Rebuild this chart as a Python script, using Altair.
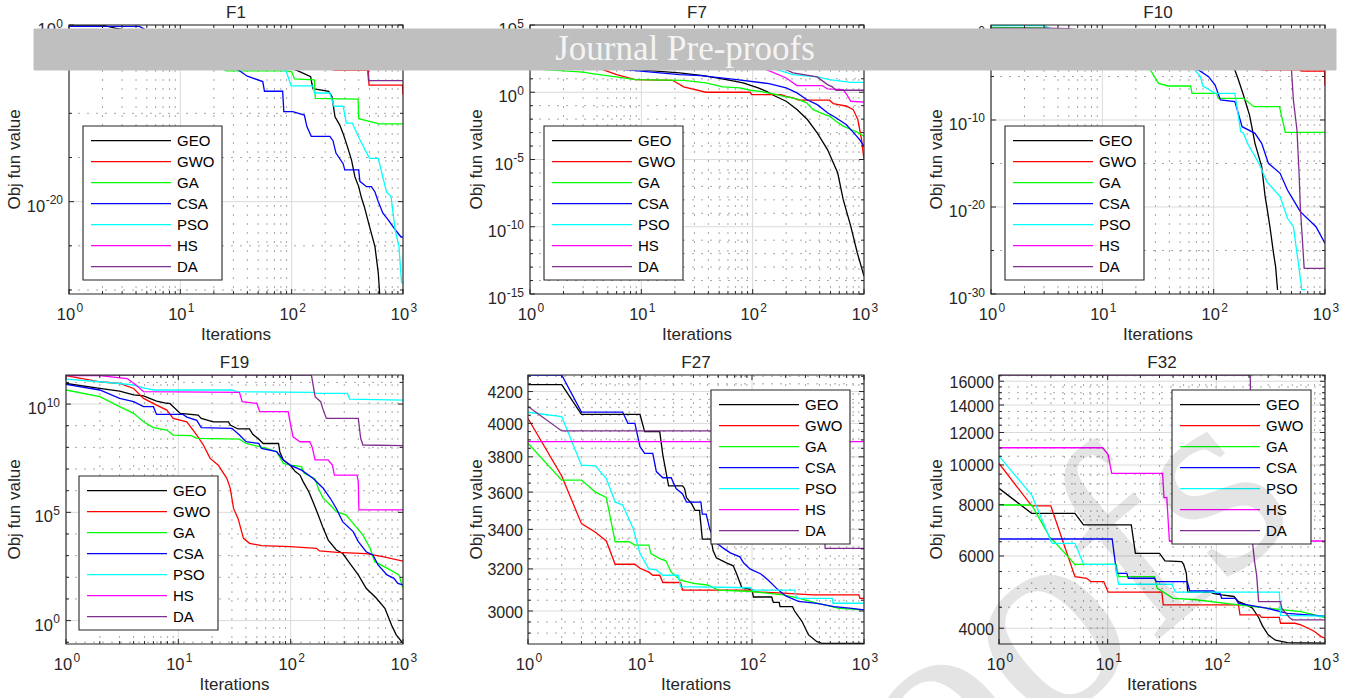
import altair as alt
import pandas as pd

FONT = "Liberation Sans"
SERIF = "Liberation Serif"
INK = "#262626"
GRID = "#dadada"
MINOR = "#a8a8a8"

NAMES = ["GEO", "GWO", "GA", "CSA", "PSO", "HS", "DA"]
COLORS = ["#000000", "#ff0000", "#00ff00", "#0000ff", "#00ffff", "#ff00ff", "#7e2f8e"]

X_MAJOR = [1, 10, 100, 1000]
X_EXP = ["0", "1", "2", "3"]
X_MINOR = [2, 3, 4, 5, 6, 7, 8, 9, 20, 30, 40, 50, 60, 70, 80, 90,
           200, 300, 400, 500, 600, 700, 800, 900]

# ---------------- F1 (values are log10 of objective) ----------------
F1_GEO = [(1, -0.02), (2, -0.02), (2.6, -0.35), (5, -1.0), (10, -1.8), (20, -2.7), (40, -3.6), (80, -4.5),
          (114, -5.2), (148, -5.85), (155, -7.2), (215, -7.5), (230, -8.1), (245, -10.4), (270, -11.3),
          (290, -12.3), (310, -13.4), (345, -15.3), (370, -17.2), (400, -18.3), (420, -19.4), (450, -20.6),
          (500, -22.8), (560, -25.1), (600, -28.1), (625, -31.5)]
F1_GWO = [(1, -0.7), (10, -2.0), (50, -3.5), (150, -4.5), (245, -5.1), (488, -5.1), (495, -6.8), (990, -6.8),
          (1000, -7.9)]
F1_GA = [(1, -0.7), (3, -1.2), (8, -2.8), (18, -4.3), (26, -5.2), (89, -5.2), (100, -5.3), (106, -6.1),
         (160, -6.2), (163, -8.3), (395, -8.4), (400, -10.6), (500, -10.9), (610, -11.2), (1000, -11.2)]
F1_CSA = [(1, -0.15), (4.3, -0.15), (6, -1.2), (12, -2.6), (25, -4.2), (35, -5.3), (40, -5.8), (55, -6.4),
          (57, -7.5), (83, -7.5), (85, -9.8), (102, -9.8), (130, -10.2), (137, -11.5), (150, -12.6),
          (220, -12.6), (235, -13.1), (250, -14.5), (290, -15.7), (300, -16.4), (400, -16.4), (410, -17.7),
          (470, -18.3), (520, -18.3), (560, -18.9), (600, -20.0), (660, -21.3), (740, -22.1), (830, -23.0),
          (960, -24.0), (1000, -24.0)]
F1_PSO = [(1, -0.7), (5, -1.6), (15, -3.0), (40, -4.3), (89, -5.2), (99, -6.9), (155, -6.9), (160, -7.7),
          (220, -7.7), (240, -9.2), (290, -9.2), (310, -11.1), (350, -11.1), (410, -13.0), (500, -15.1),
          (600, -15.1), (710, -18.9), (780, -19.4), (850, -23.2), (920, -25.1), (970, -29.1), (1000, -29.3)]
F1_HS = [(1, -0.7), (10, -1.2), (100, -2.5), (400, -3.5), (1000, -3.8)]
F1_DA = [(1, -0.7), (30, -1.5), (200, -3.0), (480, -4.9), (490, -6.3), (1000, -6.3)]

# ---------------- F7 (log10) ----------------
F7_GEO = [(1, 4.0), (2, 3.2), (4, 2.5), (9, 1.68), (22, 1.44), (36, 1.24), (58, 0.94), (82, 0.69), (112, 0.32),
          (133, 0.07), (160, -0.3), (200, -0.67), (250, -1.29), (310, -2.03), (380, -3.02), (470, -4.26),
          (580, -5.99), (650, -7.97), (760, -9.95), (870, -11.93), (1000, -13.66)]
F7_GWO = [(1, 4.2), (2, 3.0), (4.5, 1.68), (6, 1.31), (8.8, 0.94), (19, 0.89), (21, 0.69), (24, 0.40), (38, 0.0),
          (95, 0.0), (98, -0.17), (180, -0.17), (200, -0.3), (230, -0.42), (260, -0.59), (490, -0.59),
          (530, -0.84), (700, -1.04), (800, -1.29), (880, -2.03), (950, -3.5), (1000, -5.0)]
F7_GA = [(1, 1.75), (3, 1.49), (3.6, 1.39), (9, 0.94), (24, 0.89), (38, 0.69), (54, 0.40), (77, 0.32),
         (95, 0.15), (116, 0.07), (165, -0.17), (190, -0.30), (250, -0.5), (305, -0.79), (350, -1.29),
         (445, -1.66), (490, -1.78), (560, -2.15), (650, -2.52), (760, -2.77), (870, -2.97), (1000, -3.27)]
F7_CSA = [(1, 3.8), (3, 2.6), (7, 1.68), (22, 1.31), (34, 1.24), (72, 0.94), (140, 0.64), (200, 0.32),
          (250, -0.05), (305, -0.54), (380, -0.92), (470, -1.53), (560, -1.9), (690, -2.4), (810, -3.02),
          (910, -3.5), (1000, -4.0)]
F7_PSO = [(1, 3.5), (20, 2.5), (100, 2.0), (165, 1.68), (230, 1.31), (380, 1.14), (490, 0.94), (760, 0.74),
          (1000, 0.74)]
F7_HS = [(1, 4.3), (30, 2.8), (100, 2.0), (133, 1.68), (200, 1.06), (250, 0.5), (420, 0.5), (470, 0.25),
         (650, 0.2), (700, -0.17), (760, -0.67), (1000, -0.74)]
F7_DA = [(1, 4.4), (50, 3.0), (150, 2.2), (200, 1.68), (230, 1.44), (380, 1.14), (470, 0.57), (520, 0.4),
         (560, 0.15), (1000, 0.15)]

# ---------------- F10 (log10) ----------------
F10_GEO = [(1, 0.3), (3, 0.2), (10, -0.5), (50, -2.0), (100, -3.5), (155, -4.25), (165, -5.21), (185, -7.13),
           (210, -9.43), (220, -10.77), (235, -12.68), (270, -15.36), (280, -17.09), (290, -18.81),
           (300, -19.96), (320, -22.26), (345, -25.33), (360, -26.86), (375, -29.54)]
F10_GWO = [(1, 0.3), (10, -1.0), (100, -3.0), (270, -4.25), (600, -4.25), (620, -4.37), (990, -4.37),
           (1000, -6.1)]
F10_GA = [(1, 0.65), (3.2, 0.6), (5, -1.0), (15, -3.0), (27, -4.25), (32, -5.79), (39, -6.09), (62, -6.09),
          (64, -6.93), (106, -6.93), (110, -7.51), (185, -7.51), (230, -8.47), (390, -8.47), (440, -11.42),
          (1000, -11.42)]
F10_CSA = [(1, 0.3), (5, -1.5), (30, -3.0), (73, -4.25), (90, -5.02), (103, -5.98), (115, -7.7), (155, -7.89),
           (160, -8.47), (180, -10.77), (235, -11.53), (270, -12.68), (310, -14.98), (395, -16.13),
           (460, -18.05), (510, -19.0), (600, -20.54), (830, -22.26), (1000, -24.18)]
F10_PSO = [(1, 0.85), (3, 0.85), (6, -1.0), (30, -3.0), (68, -4.25), (76, -5.02), (80, -6.09), (103, -6.93),
           (155, -6.93), (160, -8.08), (175, -11.34), (185, -11.53), (205, -12.87), (255, -14.98),
           (300, -17.09), (395, -18.81), (460, -21.3), (520, -22.26), (560, -25.3), (620, -29.5), (660, -29.5)]
F10_HS = [(1, 0.3), (10, -0.5), (100, -1.5), (1000, -2.5)]
F10_DA = [(1, 0.55), (3, 0.55), (5, 0.5), (50, -1.0), (300, -3.0), (500, -4.25), (520, -7.7), (560, -11.15),
          (585, -16.13), (600, -19.96), (650, -27.05), (1000, -27.05)]

# ---------------- F19 (log10) ----------------
F19_GEO = [(1, 10.95), (2, 10.72), (3, 10.6), (4, 10.42), (4.9, 10.38), (6.4, 10.14), (7.9, 10.03),
           (8.4, 10.03), (10.4, 9.57), (15, 9.49), (16, 9.34), (20.5, 9.18), (28, 9.18), (29, 9.03), (34, 8.85),
           (43, 8.85), (46, 8.6), (51, 8.42), (57, 8.18), (78, 8.18), (80, 7.8), (86, 7.42), (99, 7.18),
           (110, 6.88), (121, 6.72), (129, 6.42), (145, 5.95), (158, 5.49), (176, 4.88), (195, 4.26),
           (216, 3.72), (255, 3.26), (290, 3.11), (335, 2.65), (400, 2.11), (470, 1.49), (580, 1.03),
           (690, 0.57), (790, -0.2), (870, -0.66), (1000, -1.05)]
F19_GWO = [(1, 11.31), (2, 11.03), (3, 10.95), (4, 10.72), (4.9, 10.26), (6.4, 9.95), (7.9, 9.72), (9, 9.34),
           (11.9, 9.18), (14.6, 8.57), (16.7, 8.11), (19.2, 7.49), (22.7, 7.18), (27, 6.57), (29, 6.11),
           (31, 5.18), (34, 4.72), (38, 3.8), (43, 3.57), (55, 3.46), (99, 3.42), (170, 3.34), (180, 3.22),
           (260, 3.15), (470, 3.09), (660, 2.95), (1000, 2.75)]
F19_GA = [(1, 10.65), (2, 10.34), (3, 9.88), (4, 9.57), (4.9, 9.18), (6, 8.91), (7.9, 8.8), (9, 8.57),
          (13, 8.54), (14.6, 8.42), (35, 8.38), (40, 8.18), (61, 7.95), (75, 7.8), (86, 7.26), (99, 7.18),
          (125, 7.11), (132, 6.8), (165, 6.54), (176, 6.11), (195, 5.65), (225, 5.34), (255, 5.03),
          (310, 4.88), (360, 4.49), (440, 3.95), (510, 3.34), (560, 2.72), (720, 2.42), (920, 2.11),
          (1000, 1.49)]
F19_CSA = [(1, 10.91), (2, 10.65), (3, 10.26), (4, 10.11), (4.9, 9.88), (6, 9.88), (6.4, 9.52), (11, 9.52),
           (11.9, 9.4), (14.6, 9.25), (16, 8.91), (30, 8.88), (35, 8.57), (40, 8.26), (52, 8.18), (55, 7.95),
           (75, 7.8), (86, 7.42), (99, 7.18), (125, 6.95), (158, 6.57), (195, 6.11), (225, 5.65), (255, 5.18),
           (290, 4.57), (360, 4.11), (400, 3.65), (470, 3.18), (540, 3.03), (600, 2.57), (720, 2.11),
           (830, 1.95), (900, 1.72), (1000, 1.65)]
F19_PSO = [(1, 11.15), (2, 11.03), (3, 10.95), (4, 10.88), (4.9, 10.75), (6, 10.65), (30, 10.65), (33, 10.57),
           (158, 10.54), (170, 10.49), (320, 10.49), (335, 10.23), (1000, 10.18)]
F19_HS = [(1, 11.31), (2, 11.31), (3.5, 11.18), (4.2, 10.88), (4.9, 10.57), (35, 10.54), (37, 10.11),
          (50, 10.03), (53, 9.65), (95, 9.65), (98, 9.26), (105, 8.49), (121, 8.26), (148, 8.26), (155, 8.03),
          (165, 7.42), (215, 7.42), (235, 7.18), (245, 6.72), (390, 6.72), (400, 6.42), (405, 5.11),
          (1000, 5.11)]
F19_DA = [(1, 11.34), (153, 11.34), (165, 10.34), (185, 10.11), (195, 9.72), (208, 9.34), (400, 9.34),
          (420, 8.42), (440, 8.11), (1000, 8.08)]

# ---------------- F27 (objective values) ----------------
F27_GEO = [(1, 4245), (2, 4245), (3, 4055), (10, 4055), (11, 3950), (15, 3950), (16, 3810), (18, 3635),
           (24, 3635), (25, 3620), (26, 3570), (29, 3535), (31, 3500), (34, 3500), (36, 3350), (43, 3350),
           (45, 3290), (48, 3255), (59, 3230), (68, 3215), (73, 3175), (81, 3110), (100, 3100), (103, 3065),
           (150, 3065), (155, 3040), (175, 3040), (178, 3020), (230, 3020), (240, 3000), (280, 2952),
           (320, 2892), (380, 2862), (420, 2855), (1000, 2855)]
F27_GWO = [(1, 4030), (2, 3690), (3, 3430), (4, 3385), (5, 3340), (6, 3223), (9, 3223), (10, 3203), (12, 3184),
           (13, 3169), (15, 3169), (16, 3134), (23, 3134), (24, 3098), (98, 3098), (100, 3090), (190, 3083),
           (350, 3075), (900, 3075), (920, 3059), (1000, 3059)]
F27_GA = [(1, 3880), (2, 3667), (3, 3667), (4, 3600), (5, 3571), (6, 3336), (8, 3336), (9, 3319), (12, 3319),
          (12.5, 3276), (15, 3251), (17, 3240), (19, 3184), (23, 3145), (30, 3130), (40, 3122), (50, 3098),
          (100, 3091), (190, 3075), (260, 3060), (380, 3036), (600, 3012), (1000, 3005)]
F27_CSA = [(1, 4308), (2, 4308), (3, 4070), (7, 4070), (7.8, 4000), (9, 4000), (10, 3860), (11, 3820),
           (13, 3820), (14, 3715), (16, 3680), (19, 3680), (21, 3620), (24, 3590), (26, 3545), (35, 3545),
           (36, 3480), (39, 3480), (42, 3400), (45, 3365), (48, 3330), (55, 3305), (64, 3280), (78, 3260),
           (84, 3230), (96, 3200), (120, 3175), (140, 3145), (170, 3100), (200, 3070), (260, 3045),
           (380, 3035), (540, 3020), (780, 3012), (1000, 3005)]
F27_PSO = [(1, 4069), (2, 4042), (3, 3752), (4, 3748), (5, 3676), (6, 3546), (7, 3529), (8.7, 3404),
           (10, 3276), (12, 3200), (14, 3195), (16, 3169), (22, 3169), (23, 3114), (98, 3109), (100, 3098),
           (240, 3098), (250, 3059), (520, 3059), (530, 3036), (1000, 3036)]
F27_HS = [(1, 3890), (1000, 3890)]
F27_DA = [(1, 4105), (2, 3954), (60, 3954), (100, 3800), (200, 3600), (300, 3450), (440, 3450), (450, 3302),
          (1000, 3302)]

# ---------------- F32 (objective values) ----------------
F32_GEO = [(1, 8769), (2, 7621), (5, 7621), (6, 7141), (16.5, 7141), (18, 6091), (30, 6091), (33.7, 5840),
           (48, 5813), (50, 5725), (53, 5445), (54.5, 4897), (88, 4897), (95, 4860), (112, 4824), (145, 4780),
           (160, 4644), (190, 4559), (215, 4477), (245, 4248), (265, 4060), (300, 3853), (350, 3740),
           (450, 3690), (1000, 3678)]
F32_GWO = [(1, 10088), (2, 7945), (3, 7945), (5, 5344), (6.4, 5295), (7, 5196), (9.2, 5196), (10.1, 4897),
           (31.5, 4897), (32.5, 4559), (160, 4559), (165, 4311), (250, 4311), (260, 4250), (380, 4250),
           (390, 4113), (530, 4113), (600, 4075), (700, 4000), (800, 3926), (920, 3817), (1000, 3782)]
F32_GA = [(1, 7988), (2, 7988), (3, 6601), (3.2, 6527), (5, 5725), (12, 5725), (12.6, 5344), (27, 5344),
          (28.5, 5009), (32.7, 4897), (40, 4731), (62, 4700), (160, 4559), (290, 4477), (600, 4392),
          (1000, 4248)]
F32_CSA = [(1, 6601), (11, 6601), (12.1, 5445), (15, 5445), (15.5, 5295), (27, 5295), (28, 5196), (54, 5196),
           (57, 4930), (94, 4930), (100, 4872), (108, 4872), (112, 4731), (150, 4731), (160, 4600),
           (290, 4477), (450, 4350), (1000, 4280)]
F32_PSO = [(1, 10510), (2, 8450), (3, 6527), (3.1, 6443), (5, 6443), (6, 5725), (11.7, 5725), (12.6, 5120),
           (39, 5120), (42, 4897), (380, 4897), (390, 4300), (1000, 4280)]
F32_HS = [(1, 11015), (9, 11015), (10.1, 10600), (10.9, 9536), (32, 9536), (33, 8323), (35, 8323), (37, 6527),
          (1000, 6527)]
F32_DA = [(1, 16570), (205, 16570), (215, 6500), (225, 5800), (235, 5390), (245, 4644), (390, 4644),
          (400, 4477), (470, 4250), (500, 4190), (1000, 4190)]

# ---------------- axis ticks ----------------
F1_Y_DOMAIN = [3.5e-31, 1.0]
F1_Y_MAJOR = [1e0, 1e-20]
F1_Y_EXP = ["0", "-20"]
F1_Y_MINOR = [1e-5, 1e-10, 1e-15, 1e-25, 1e-30]

F7_Y_DOMAIN = [1e-15, 1e5]
F7_Y_MAJOR = [1e5, 1e0, 1e-5, 1e-10, 1e-15]
F7_Y_EXP = ["5", "0", "-5", "-10", "-15"]
F7_Y_MINOR = [1e4, 1e3, 1e2, 1e1, 1e-1, 1e-2, 1e-3, 1e-4, 1e-6, 1e-7, 1e-8, 1e-9, 1e-11, 1e-12, 1e-13, 1e-14]

F10_Y_DOMAIN = [1e-30, 8.3]
F10_Y_MAJOR = [1e0, 1e-10, 1e-20, 1e-30]
F10_Y_EXP = ["0", "-10", "-20", "-30"]
F10_Y_MINOR = [1e-5, 1e-15, 1e-25]

F19_Y_DOMAIN = [0.083, 2.2e11]
F19_Y_MAJOR = [1e0, 1e5, 1e10]
F19_Y_EXP = ["0", "5", "10"]
F19_Y_MINOR = [1e-1, 1e1, 1e2, 1e3, 1e4, 1e6, 1e7, 1e8, 1e9, 1e11]

F27_Y_DOMAIN = [2852, 4308]
F27_Y_MAJOR = [3000, 3200, 3400, 3600, 3800, 4000, 4200]
F27_Y_MINOR = [2900, 2950, 3050, 3100, 3150, 3250, 3300, 3350, 3450, 3500, 3550, 3650, 3700, 3750, 3850,
               3900, 3950, 4050, 4100, 4150, 4250, 4300]

F32_Y_DOMAIN = [3661, 16570]
F32_Y_MAJOR = [4000, 6000, 8000, 10000, 12000, 14000, 16000]
F32_Y_MINOR = [4500, 5000, 5500, 6500, 7000, 7500, 8500, 9000, 9500, 10500, 11000, 11500, 12500, 13000,
               13500, 14500, 15000, 15500, 16500]

ONE = pd.DataFrame({"k": [0]})
BASE_FS = 16.5
EXP_FS = 12
LAB_FS = 16
TITLE_FS = 17


def exp_width(s):
    return sum(0.333 * EXP_FS if c == "-" else 0.556 * EXP_FS for c in s)


def fixed_rule(x1, y1, x2, y2, **kw):
    return alt.Chart(ONE).mark_rule(**kw).encode(
        x=alt.value(x1), y=alt.value(y1), x2=alt.value(x2), y2=alt.value(y2))


def fixed_text(txt, x, y, **kw):
    return alt.Chart(ONE).mark_text(text=txt, font=FONT, color=INK, **kw).encode(
        x=alt.value(x), y=alt.value(y))


def panel(title, series, log_values, ydom, ymajor, yminor, yexp, legend_at, W, H, ytitle_off,
          anchor=None, extras=()):
    xs = alt.Scale(type="log", domain=[1, 1000], nice=False)
    ys = alt.Scale(type="log", domain=ydom, nice=False)
    cs = alt.Scale(domain=NAMES, range=COLORS)

    rows = []
    for name, pts in zip(NAMES, series):
        for i, (x, v) in enumerate(pts):
            rows.append({"x": x, "v": v, "s": name, "i": i})
    df = pd.DataFrame(rows)

    def xrule(vals, **kw):
        return alt.Chart(pd.DataFrame({"t": vals})).mark_rule(**kw).encode(
            x=alt.X("t:Q", scale=xs, axis=None))

    def yrule(vals, **kw):
        return alt.Chart(pd.DataFrame({"t": vals})).mark_rule(**kw).encode(
            y=alt.Y("t:Q", scale=ys, axis=None))

    layers = []
    # grids: solid major, dotted minor
    layers.append(xrule(X_MAJOR, color=GRID, strokeWidth=1).encode(y=alt.value(0), y2=alt.value(H)))
    layers.append(yrule(ymajor, color=GRID, strokeWidth=1).encode(x=alt.value(0), x2=alt.value(W)))
    layers.append(xrule(X_MINOR, color=MINOR, strokeDash=[2, 7], strokeWidth=1).encode(
        y=alt.value(0), y2=alt.value(H)))
    layers.append(yrule(yminor, color=MINOR, strokeDash=[2, 7], strokeWidth=1).encode(
        x=alt.value(0), x2=alt.value(W)))
    # data lines
    calc = "pow(10, datum.v)" if log_values else "datum.v"
    layers.append(alt.Chart(df).transform_calculate(y=calc).mark_line(clip=True, strokeWidth=1.3).encode(
        x=alt.X("x:Q", scale=xs, axis=None),
        y=alt.Y("y:Q", scale=ys, axis=None),
        color=alt.Color("s:N", scale=cs, legend=None),
        order="i:Q"))
    # inward ticks on all four sides
    for vals, L in ((X_MAJOR, 5), (X_MINOR, 3)):
        layers.append(xrule(vals, color=INK).encode(y=alt.value(H), y2=alt.value(H - L)))
        layers.append(xrule(vals, color=INK).encode(y=alt.value(0), y2=alt.value(L)))
    for vals, L in ((ymajor, 5), (yminor, 3)):
        layers.append(yrule(vals, color=INK).encode(x=alt.value(0), x2=alt.value(L)))
        layers.append(yrule(vals, color=INK).encode(x=alt.value(W), x2=alt.value(W - L)))
    # box
    layers.append(alt.Chart(ONE).mark_rect(fillOpacity=0, stroke=INK, strokeWidth=1.1).encode(
        x=alt.value(0), x2=alt.value(W), y=alt.value(0), y2=alt.value(H)))

    # x tick labels 10^k
    xl = pd.DataFrame({"t": X_MAJOR, "e": X_EXP})
    layers.append(alt.Chart(xl).mark_text(text="10", font=FONT, fontSize=BASE_FS, color=INK, align="center",
                                          baseline="alphabetic", dx=-3).encode(
        x=alt.X("t:Q", scale=xs, axis=None), y=alt.value(H + 26)))
    layers.append(alt.Chart(xl).mark_text(font=FONT, fontSize=EXP_FS, color=INK, align="left",
                                          baseline="alphabetic", dx=7.5).encode(
        x=alt.X("t:Q", scale=xs, axis=None), y=alt.value(H + 17.5), text="e:N"))
    # y tick labels
    if yexp is not None:
        yl = pd.DataFrame({"t": ymajor, "e": yexp})
        yl["px"] = [-(6 + exp_width(e) + 0.5) for e in yexp]
        layers.append(alt.Chart(yl).mark_text(text="10", font=FONT, fontSize=BASE_FS, color=INK, align="right",
                                              baseline="alphabetic", dy=10).encode(
            x=alt.X("px:Q", scale=None, axis=None), y=alt.Y("t:Q", scale=ys, axis=None)))
        layers.append(alt.Chart(yl).mark_text(font=FONT, fontSize=EXP_FS, color=INK, align="right",
                                              baseline="alphabetic", dy=2.5).encode(
            x=alt.value(-6), y=alt.Y("t:Q", scale=ys, axis=None), text="e:N"))
    else:
        yl = pd.DataFrame({"t": ymajor})
        layers.append(alt.Chart(yl).mark_text(font=FONT, fontSize=LAB_FS, color=INK, align="right",
                                              baseline="middle", dy=1.5).encode(
            x=alt.value(-5), y=alt.Y("t:Q", scale=ys, axis=None), text=alt.Text("t:Q", format="d")))
    # axis titles and panel title
    layers.append(fixed_text("Iterations", W / 2, H + 46, fontSize=TITLE_FS, align="center",
                             baseline="alphabetic"))
    layers.append(fixed_text("Obj fun value", -ytitle_off, H / 2, fontSize=TITLE_FS, align="center",
                             baseline="middle", angle=270))
    layers.append(fixed_text(title, W / 2, -6.7, fontSize=TITLE_FS, align="center", baseline="alphabetic"))

    # legend
    bx, by = legend_at
    layers.append(alt.Chart(ONE).mark_rect(fill="white", stroke=INK, strokeWidth=1.1).encode(
        x=alt.value(bx), x2=alt.value(bx + 139), y=alt.value(by), y2=alt.value(by + 154)))
    leg = pd.DataFrame({"s": NAMES, "r": list(range(len(NAMES)))})
    ly = alt.Scale(domain=[0, 6], range=[by + 14.7, by + 140.7], nice=False, zero=False)
    layers.append(alt.Chart(leg).mark_rule(strokeWidth=1.3).encode(
        x=alt.value(bx + 8), x2=alt.value(bx + 88),
        y=alt.Y("r:Q", scale=ly, axis=None),
        color=alt.Color("s:N", scale=cs, legend=None)))
    layers.append(alt.Chart(leg).mark_text(align="left", baseline="middle", font=FONT, fontSize=15,
                                           color="black").encode(
        x=alt.value(bx + 94), y=alt.Y("r:Q", scale=ly, axis=None), text="s:N"))
    if anchor is not None:
        layers.append(fixed_rule(*anchor, strokeOpacity=0))
    layers.extend(extras)

    return alt.layer(*layers).resolve_scale(x="independent", y="independent").properties(width=W, height=H)


def spacer(w, h):
    return alt.Chart(ONE).mark_rule(strokeOpacity=0).encode(
        x=alt.value(0), x2=alt.value(0), y=alt.value(0), y2=alt.value(0)).properties(width=w, height=h)


H = 269
banner = [
    alt.Chart(ONE).mark_rect(fill="#bfbfbf", stroke="#bfbfbf").encode(
        x=alt.value(-957), x2=alt.value(345), y=alt.value(4), y2=alt.value(45)),
    alt.Chart(ONE).mark_text(text="Journal Pre-proofs", font=SERIF, fontSize=35, color="#f4f4f4",
                             align="center", baseline="alphabetic").encode(
        x=alt.value(-306), y=alt.value(35)),
]
watermark = [
    alt.Chart(ONE).mark_text(text="oofs", font=SERIF, fontSize=280, color="black", opacity=0.1,
                             align="right", baseline="alphabetic", angle=320).encode(
        x=alt.value(305), y=alt.value(142)),
]

p1 = panel("F1", [F1_GEO, F1_GWO, F1_GA, F1_CSA, F1_PSO, F1_HS, F1_DA], True, F1_Y_DOMAIN, F1_Y_MAJOR,
           F1_Y_MINOR, F1_Y_EXP, (14, 101), 334, H, 54, anchor=(-69, -25, -69, 320))
p7 = panel("F7", [F7_GEO, F7_GWO, F7_GA, F7_CSA, F7_PSO, F7_HS, F7_DA], True, F7_Y_DOMAIN, F7_Y_MAJOR,
           F7_Y_MINOR, F7_Y_EXP, (14, 101), 334, H, 53)
p10 = panel("F10", [F10_GEO, F10_GWO, F10_GA, F10_CSA, F10_PSO, F10_HS, F10_DA], True, F10_Y_DOMAIN,
            F10_Y_MAJOR, F10_Y_MINOR, F10_Y_EXP, (14, 101), 334, H, 54, extras=banner)
p19 = panel("F19", [F19_GEO, F19_GWO, F19_GA, F19_CSA, F19_PSO, F19_HS, F19_DA], True, F19_Y_DOMAIN,
            F19_Y_MAJOR, F19_Y_MINOR, F19_Y_EXP, (13, 101), 337, H, 51, anchor=(-66, -28, -66, -27))
p27 = panel("F27", [F27_GEO, F27_GWO, F27_GA, F27_CSA, F27_PSO, F27_HS, F27_DA], False, F27_Y_DOMAIN,
            F27_Y_MAJOR, F27_Y_MINOR, None, (183, 15), 336, H, 51)
p32 = panel("F32", [F32_GEO, F32_GWO, F32_GA, F32_CSA, F32_PSO, F32_HS, F32_DA], False, F32_Y_DOMAIN,
            F32_Y_MAJOR, F32_Y_MINOR, None, (173, 15), 326, H, 62, extras=watermark)

row1 = alt.hconcat(spacer(3, H), p1, spacer(127, H), p7, spacer(127, H), p10, spacing=0, bounds="flush")
row2 = alt.hconcat(p19, spacer(125, H), p27, spacer(135, H), p32, spacing=0, bounds="flush")

chart = alt.vconcat(row1, row2, spacing=0).properties(
    padding=0, background="white"
).configure_view(strokeWidth=0)

chart.save("out.html", embed_options={"renderer": "svg", "actions": False})
